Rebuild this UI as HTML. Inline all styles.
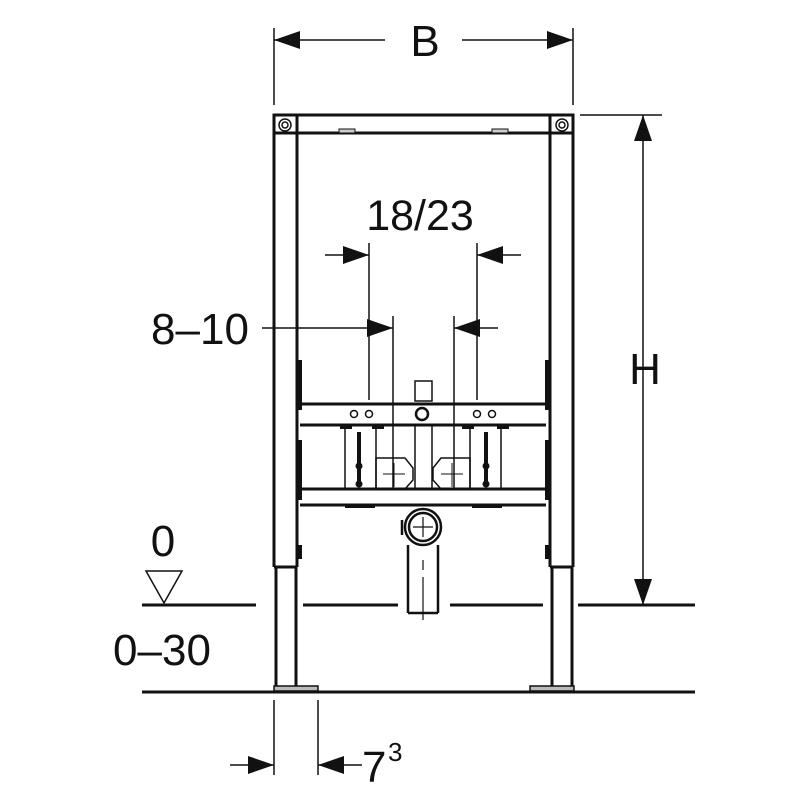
<!DOCTYPE html>
<html><head><style>body{margin:0;background:#fff}svg{display:block}text{font-family:"Liberation Sans",sans-serif;fill:#111}</style></head><body>
<svg width="800" height="800" viewBox="0 0 800 800" xmlns="http://www.w3.org/2000/svg" stroke="#111" fill="none">
<g stroke-width="1.5">
<line x1="274" y1="28" x2="274" y2="105"/><line x1="573" y1="28" x2="573" y2="105"/>
<line x1="274" y1="40" x2="385" y2="40"/><line x1="462" y1="40" x2="573" y2="40"/>
</g>
<polygon points="274,40 300,31 300,49" fill="#111" stroke="none"/>
<polygon points="573,40 547,31 547,49" fill="#111" stroke="none"/>
<text x="425" y="56" font-size="44" text-anchor="middle" stroke="none">B</text>
<g stroke-width="1.5">
<line x1="580" y1="115" x2="662" y2="115"/><line x1="643" y1="115" x2="643" y2="605"/>
</g>
<polygon points="643,115 634,141 652,141" fill="#111" stroke="none"/>
<polygon points="643,605 634,579 652,579" fill="#111" stroke="none"/>
<text x="645" y="384" font-size="44" text-anchor="middle" stroke="none">H</text>
<g stroke-width="3">
<rect x="274" y="115" width="299" height="18"/>
<line x1="274" y1="115" x2="274" y2="567"/><line x1="297" y1="133" x2="297" y2="567"/>
<line x1="274" y1="567" x2="297" y2="567"/>
<line x1="550" y1="133" x2="550" y2="567"/><line x1="573" y1="115" x2="573" y2="567"/>
<line x1="550" y1="567" x2="573" y2="567"/>
<line x1="297" y1="115" x2="297" y2="133"/><line x1="550" y1="115" x2="550" y2="133"/>
<line x1="276" y1="567" x2="276" y2="688"/><line x1="296" y1="567" x2="296" y2="688"/>
<line x1="552" y1="567" x2="552" y2="688"/><line x1="572" y1="567" x2="572" y2="688"/>
</g>
<rect x="274" y="686" width="44" height="5" fill="#bbb" stroke-width="1.5"/>
<rect x="530" y="686" width="44" height="5" fill="#bbb" stroke-width="1.5"/>
<circle cx="285" cy="125" r="6" stroke-width="1.5"/><circle cx="285" cy="125" r="3" stroke-width="1.5"/>
<circle cx="562" cy="125" r="6" stroke-width="1.5"/><circle cx="562" cy="125" r="3" stroke-width="1.5"/>
<rect x="339" y="129" width="16" height="4" fill="#ccc" stroke-width="1"/><rect x="492" y="129" width="16" height="4" fill="#ccc" stroke-width="1"/>
<g fill="#111" stroke="none">
<rect x="297" y="360" width="5" height="50"/><rect x="545" y="360" width="5" height="50"/>
<rect x="297" y="440" width="5" height="60"/><rect x="545" y="440" width="5" height="60"/>
<rect x="297" y="545" width="5" height="14"/><rect x="545" y="545" width="5" height="14"/>
</g>
<g stroke-width="3">
<line x1="300" y1="404" x2="546" y2="404"/><line x1="300" y1="425" x2="546" y2="425"/>
<line x1="300" y1="489" x2="546" y2="489"/><line x1="300" y1="505" x2="546" y2="505"/>
</g>
<g stroke-width="1.5">
<circle cx="354" cy="414" r="3.5"/><circle cx="369" cy="414" r="3.5"/>
<circle cx="477" cy="414" r="3.5"/><circle cx="492" cy="414" r="3.5"/>
<circle cx="422" cy="414" r="6" stroke-width="2.5"/>
<rect x="415" y="381" width="17" height="20"/>
<line x1="415" y1="425" x2="415" y2="489"/><line x1="432" y1="425" x2="432" y2="489"/>
<line x1="345" y1="425" x2="345" y2="489"/><line x1="376" y1="425" x2="376" y2="489"/>
<line x1="470" y1="425" x2="470" y2="489"/><line x1="501" y1="425" x2="501" y2="489"/>
<line x1="359" y1="432" x2="359" y2="485" stroke-width="4"/><line x1="486" y1="432" x2="486" y2="485" stroke-width="4"/>
<polygon points="376,458 405,458 413,468 413,480 405,489 376,489"/>
<polygon points="470,458 441,458 433,468 433,480 441,489 470,489"/>
<line x1="383" y1="474" x2="405" y2="474" stroke-width="1"/><line x1="394" y1="463" x2="394" y2="487" stroke-width="1"/>
<line x1="441" y1="474" x2="463" y2="474" stroke-width="1"/><line x1="452" y1="463" x2="452" y2="487" stroke-width="1"/>
</g>
<g fill="#111" stroke="none">
<circle cx="359" cy="466" r="3.5"/><circle cx="359" cy="484" r="3.5"/>
<circle cx="486" cy="466" r="3.5"/><circle cx="486" cy="484" r="3.5"/>
<rect x="340" y="425" width="12" height="4"/><rect x="372" y="425" width="12" height="4"/>
<rect x="462" y="425" width="12" height="4"/><rect x="497" y="425" width="12" height="4"/>
<rect x="345" y="505" width="30" height="3"/><rect x="472" y="505" width="30" height="3"/>
</g>
<g stroke-width="2.5">
<circle cx="423" cy="527" r="18"/><circle cx="423" cy="527" r="14"/>
<line x1="408" y1="545" x2="408" y2="613"/><line x1="438" y1="545" x2="438" y2="613"/><line x1="408" y1="613" x2="438" y2="613"/>
<line x1="402" y1="520" x2="402" y2="535"/>
</g>
<g stroke-width="1.2"><line x1="413" y1="527" x2="433" y2="527"/><line x1="423" y1="517" x2="423" y2="537"/>
<line x1="423" y1="560" x2="423" y2="570"/><line x1="423" y1="577" x2="423" y2="620"/></g>
<g stroke-width="1.5">
<line x1="369" y1="243" x2="369" y2="400"/><line x1="477" y1="243" x2="477" y2="400"/>
<line x1="325" y1="255" x2="369" y2="255"/><line x1="477" y1="255" x2="521" y2="255"/>
<line x1="393" y1="316" x2="393" y2="489"/><line x1="454" y1="316" x2="454" y2="489"/>
<line x1="262" y1="328" x2="393" y2="328"/><line x1="454" y1="328" x2="498" y2="328"/>
</g>
<g fill="#111" stroke="none">
<polygon points="369,255 343,246 343,264"/><polygon points="477,255 503,246 503,264"/>
<polygon points="393,328 367,319 367,337"/><polygon points="454,328 480,319 480,337"/>
</g>
<text x="420" y="230" font-size="43" text-anchor="middle" stroke="none">18/23</text>
<text x="200" y="344" font-size="44" text-anchor="middle" stroke="none">8–10</text>
<g stroke-width="3">
<line x1="142" y1="605" x2="256" y2="605"/><line x1="303" y1="605" x2="398" y2="605"/>
<line x1="450" y1="605" x2="543" y2="605"/><line x1="578" y1="605" x2="695" y2="605"/>
<line x1="142" y1="692" x2="695" y2="692"/>
</g>
<polygon points="146,571 182,571 164,603" stroke-width="1.5"/>
<text x="163" y="556" font-size="44" text-anchor="middle" stroke="none">0</text>
<text x="162" y="665" font-size="44" text-anchor="middle" stroke="none">0–30</text>
<g stroke-width="1.5">
<line x1="274" y1="700" x2="274" y2="775"/><line x1="318" y1="700" x2="318" y2="775"/>
<line x1="230" y1="765" x2="274" y2="765"/><line x1="318" y1="765" x2="362" y2="765"/>
</g>
<polygon points="274,765 248,756 248,774" fill="#111" stroke="none"/>
<polygon points="318,765 344,756 344,774" fill="#111" stroke="none"/>
<text x="362" y="782" font-size="44" stroke="none">7</text>
<text x="388" y="761" font-size="26" stroke="none">3</text>
</svg>
</body></html>
